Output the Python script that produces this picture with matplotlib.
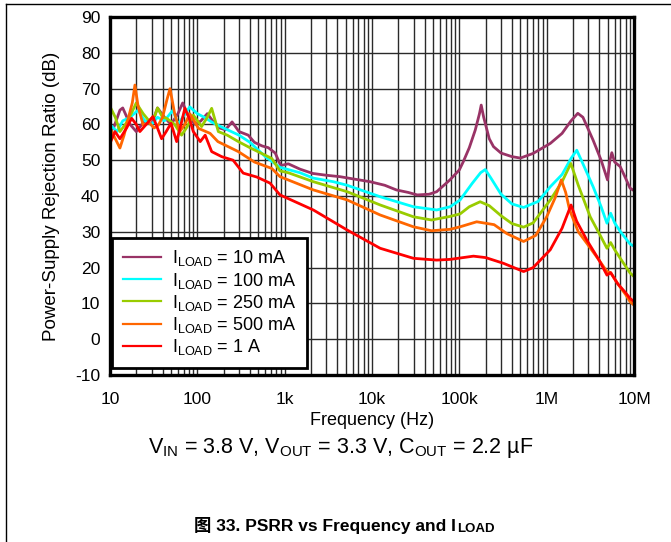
import matplotlib
matplotlib.use('Agg')
import matplotlib.pyplot as plt
from matplotlib.lines import Line2D
from matplotlib.ticker import FixedLocator, NullFormatter, LogLocator

plt.rcParams['font.family'] = ['Liberation Sans', 'Noto Sans CJK SC', 'DejaVu Sans']
plt.rcParams['mathtext.fontset'] = 'custom'
plt.rcParams['mathtext.rm'] = 'Liberation Sans'
plt.rcParams['mathtext.default'] = 'regular'
plt.rcParams['axes.unicode_minus'] = False

# PSRR curves (frequency in Hz, PSRR in dB)
f_10mA = [10, 11, 13, 14, 17, 20, 25, 30, 35, 42, 50, 60, 68, 80, 95, 110, 130, 150, 180,
          210, 250, 300, 383, 450, 550, 650, 780, 900, 1100, 1500, 2100, 3000, 4300, 6000,
          9500, 14000, 19000, 26000, 33000, 45000, 55000, 78000, 100000, 111000, 130000,
          152000, 170000, 178000, 190000, 220000, 246000, 300000, 400000, 500000, 700000,
          1.1e6, 1.5e6, 1.9e6, 2.27e6, 2.6e6, 3.4e6, 4.2e6, 4.97e6, 5.3e6, 5.57e6, 6.0e6,
          6.95e6, 8e6, 9e6, 1e7]
psrr_10mA = [58, 59, 64, 64.6, 60, 58, 61, 60, 64.6, 62, 60, 63, 66, 62, 60, 61, 63, 61, 59,
             58.5, 60.7, 58, 57, 55, 54, 53.5, 52, 48.5, 49, 47.5, 46.3, 45.8, 45.4, 44.8,
             44, 43, 41.7, 41, 40.3, 40.5, 41.2, 44.5, 47.3, 49.6, 53.5,
             58.4, 63, 65.4, 62, 56, 53.8, 52, 51, 50.6, 51.9,
             54.7, 57.5, 61, 63.1, 62, 55.6, 50, 44.5, 50, 52.1, 49.5,
             48.2, 45, 42.2, 41.5]

f_100mA = [10, 12, 14, 17, 21, 25, 30, 35, 42, 52.7, 60, 68, 82, 100, 120, 150, 200, 300,
           400, 600, 885, 1500, 2130, 3600, 5200, 12400, 29800, 55000, 78500, 102000,
           140000, 175000, 198000, 230000, 300000, 400000, 544000, 800000, 1.1e6, 1.5e6,
           1.9e6, 2.21e6, 2.6e6, 3.4e6, 4.2e6, 4.9e6, 5.4e6, 6e6, 7e6, 9e6, 1e7]
psrr_100mA = [60, 58, 61, 62, 64, 61, 60, 62, 61, 64, 60, 62, 64.9, 63, 62, 60.5, 59, 57,
              55, 51, 48, 46.5, 45, 44, 43, 39.8, 37, 36.1, 37, 38.9,
              43.5, 46.5, 47.4, 45, 40.5, 37.8, 36.8, 38.5, 42.6, 46,
              50.5, 52.8, 49, 42.6, 37, 32.4, 35.2, 32.5, 30, 26.6, 26]

f_250mA = [10, 11.5, 13, 15, 17.5, 20, 24, 28, 32.8, 35, 40, 44.6, 55, 66, 75, 90, 112, 130,
           146, 174, 220, 295, 400, 712, 885, 1100, 2130, 5200, 12400, 29800, 48000, 78500,
           102000, 130000, 173000, 220000, 300000, 400000, 544000, 700000, 1.1e6, 1.5e6,
           1.89e6, 2.3e6, 3.15e6, 4.0e6, 4.9e6, 5.4e6, 6e6, 7e6, 9e6, 1e7]
psrr_250mA = [65, 62, 58, 60, 63, 66, 63, 61, 62.6, 64.6, 62, 61.7, 60, 57, 59, 62.6, 59.4, 62,
              64.5, 58, 57, 55.2, 53.5, 50.5, 47, 46.5, 44, 41.2, 37.5, 34.2, 33.3, 34.3,
              35, 37, 38.4, 37.3, 34.5, 32.3, 31.3, 32.5, 38.9, 44,
              49.1, 43, 34.2, 29.5, 25.4, 27, 25, 22.5, 18.5, 17.5]

f_500mA = [10, 11.5, 13, 14.5, 16.2, 18, 19.3, 21, 24, 28, 32, 35.8, 40, 45, 48.7, 55, 63, 72,
           82, 92, 103, 140, 172, 295, 450, 712, 885, 2130, 5200, 12400, 29800, 48000, 78500,
           102000, 158000, 250000, 350000, 544000, 750000, 1.0e6, 1.25e6, 1.47e6, 1.65e6,
           1.83e6, 2.3e6, 2.88e6, 4e6, 4.9e6, 5.4e6, 6.5e6, 8e6, 9e6, 1e7]
psrr_500mA = [59, 56, 53.4, 57, 61.7, 66, 71, 65, 59.8, 60.5, 59, 59.8, 62, 67, 70, 63, 58, 60,
              63, 61, 58.9, 57.5, 55.2, 52.4, 49.5, 47.7, 45.4, 41.7, 38.9, 34.7, 31.4, 30.3, 30.7,
              31.4, 32.8, 32, 29.5, 27.3, 29, 34.2, 39.5, 44.5, 41,
              36.1, 30, 26.8, 22, 18.9, 18.6, 15.5, 12.5, 10.5, 9.5]

f_1A = [10, 11.4, 13, 15.5, 17.7, 20, 22, 26, 31, 35, 39, 44, 50, 58, 65, 72, 80, 90, 108,
        123, 146, 190, 257, 335, 480, 680, 885, 1070, 2130, 5200, 12400, 29800, 55000, 78500,
        145000, 200000, 320000, 544000, 700000, 1.1e6, 1.5e6, 1.9e6, 2.2e6, 2.88e6, 4e6,
        4.9e6, 5.4e6, 6.5e6, 8e6, 9e6, 1e7]
psrr_1A = [54.7, 58, 56, 59, 61.7, 60, 58, 60, 62.2, 59, 56, 58, 60.3, 55.2, 60, 64.5, 62, 58, 55.2,
           57, 52.4, 51, 50, 46.4, 45.3, 43.6, 40.3, 39.4, 36.1, 30.5, 25.4, 22.6, 22.1, 22.3,
           23.2, 22.8, 21.2, 18.9, 20, 25, 31, 37.5, 33, 27.7, 22,
           17.9, 18.6, 15.5, 13, 11.4, 10.5]

series = [
    (f_10mA, psrr_10mA, '#993366', 'I$_{\\mathregular{LOAD}}$ = 10 mA'),
    (f_100mA, psrr_100mA, '#00FFFF', 'I$_{\\mathregular{LOAD}}$ = 100 mA'),
    (f_250mA, psrr_250mA, '#99CC00', 'I$_{\\mathregular{LOAD}}$ = 250 mA'),
    (f_500mA, psrr_500mA, '#FF6600', 'I$_{\\mathregular{LOAD}}$ = 500 mA'),
    (f_1A, psrr_1A, '#FF0000', 'I$_{\\mathregular{LOAD}}$ = 1 A'),
]

x_ticks = [10, 100, 1e3, 1e4, 1e5, 1e6, 1e7]
x_tick_labels = ['10', '100', '1k', '10k', '100k', '1M', '10M']
y_ticks = list(range(-10, 91, 10))

fig = plt.figure(figsize=(6.71, 5.42), dpi=100)
ax = fig.add_axes([0.1639, 0.3081, 0.781, 0.6605])

for f, p, c, lab in series:
    ax.plot(f, p, color=c, lw=2.0, label=lab)

ax.set_xscale('log')
ax.set_xlim(10, 1e7)
ax.set_ylim(-10, 90)
ax.xaxis.set_major_locator(FixedLocator(x_ticks))
ax.set_xticklabels(x_tick_labels)
ax.xaxis.set_minor_locator(LogLocator(base=10, subs=range(2, 10), numticks=20))
ax.xaxis.set_minor_formatter(NullFormatter())
ax.set_yticks(y_ticks)

ax.grid(True, which='major', axis='both', color='#2a2a2a', lw=1.0)
ax.grid(True, which='minor', axis='x', color='#2a2a2a', lw=1.0)
ax.set_axisbelow(True)
ax.tick_params(which='both', length=0, labelsize=12.5)
ax.tick_params(axis='x', pad=12)
ax.tick_params(axis='y', pad=7)
for s in ax.spines.values():
    s.set_linewidth(2.4)
    s.set_color('black')

ax.set_xlabel('Frequency (Hz)', fontsize=13, labelpad=4)
ax.set_ylabel('Power-Supply Rejection Ratio (dB)', fontsize=13.5, labelpad=11)

leg = ax.legend(loc='lower left', bbox_to_anchor=(0.004, 0.02), borderaxespad=0,
                fontsize=13, handlelength=2.1, labelspacing=0.12, borderpad=0.6,
                handletextpad=0.6, fancybox=False, framealpha=1, edgecolor='black')
leg.get_frame().set_linewidth(2.0)
for h in leg.get_lines():
    h.set_linewidth(1.6)

fig.text(341 / 671, 1 - 448 / 542,
         'V$_{\\mathregular{IN}}$ = 3.8 V, V$_{\\mathregular{OUT}}$ = 3.3 V, C$_{\\mathregular{OUT}}$ = 2.2 µF',
         ha='center', va='center', fontsize=15.5)

t1 = fig.text(325 / 671, 1 - 525 / 542, '图 33. PSRR vs Frequency and I',
              ha='center', va='center', fontsize=12.5, fontweight='bold')
ax.annotate('LOAD', xy=(1, 0), xycoords=t1, xytext=(0.5, -1), textcoords='offset points',
            ha='left', va='bottom', fontsize=9.5, fontweight='bold', annotation_clip=False)

# page border lines of the datasheet figure box
fig.add_artist(Line2D([6 / 671, 1], [1 - 4 / 542, 1 - 4 / 542], transform=fig.transFigure,
                      color='black', lw=1.0))
fig.add_artist(Line2D([6 / 671, 6 / 671], [0, 1 - 4 / 542], transform=fig.transFigure,
                      color='black', lw=1.0))

fig.savefig('out.png', dpi=100)
